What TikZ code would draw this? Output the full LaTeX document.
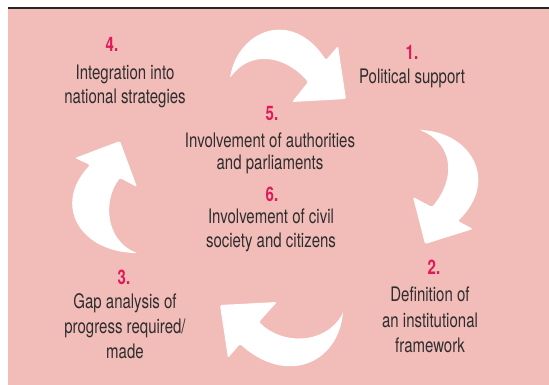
\documentclass[tikz,border=0pt]{standalone}
\usepackage{fontspec}
\setmainfont{TeX Gyre Heros}[FakeStretch=0.75]
\definecolor{bgpink}{HTML}{F2BCB9}
\definecolor{numred}{HTML}{E0195A}
\definecolor{txtgray}{HTML}{2E2E2E}
\tikzset{
  num/.style={font=\fontsize{20}{24}\selectfont\bfseries,text=numred,inner sep=0pt},
  steptext/.style={font=\fontsize{20}{24}\selectfont,text=txtgray,align=center,inner sep=0pt},
  arrowfill/.style={fill=white,rounded corners=1.5pt}
}
\begin{document}
\begin{tikzpicture}[x=1pt,y=-1pt]
\useasboundingbox (0,0) rectangle (549,385);
%frame
\fill[white] (0,0) rectangle (549,385);
\fill[bgpink] (8,9.5) rectangle (549,385);
\fill[black!85] (8,7.3) rectangle (549,9.5);
%arrows
\fill[arrowfill] (230,78) .. controls (238,30) and (292,8) .. (326,60) -- (338,46) -- (346,99) -- (292,102) -- (308,82) .. controls (285,55) and (250,50) .. (230,78) -- cycle;
\fill[arrowfill] (420,130) .. controls (470,132) and (500,180) .. (458,221) -- (473,229) -- (425,244) -- (413,197) -- (432,207) .. controls (455,180) and (455,145) .. (420,130) -- cycle;
\fill[arrowfill] (343,313) .. controls (337,365) and (285,385) .. (240,344) -- (228,358) -- (220,305) -- (277,302) -- (259,322) .. controls (282,345) and (325,345) .. (343,313) -- cycle;
\fill[arrowfill] (137,253) .. controls (80,252) and (52,205) .. (90,165) -- (75,158) -- (120,141) -- (137,187) -- (120,178) .. controls (103,200) and (105,240) .. (137,253) -- cycle;
%numbers
\foreach \k/\x/\y in {1/412/52,2/434/267,3/124/277,4/112/44,5/272/114,6/272/194}{\node[num] (n\k) at (\x,\y) {\k.};}
%steps
\node[steptext] (s1) at (412,78) {Political support};
\node[steptext,font=\fontsize{20}{25.5}\selectfont] (s2) at (430,320) {Definition of\\an institutional\\framework};
\node[steptext,font=\fontsize{20}{25}\selectfont] (s3) at (125,326) {Gap analysis of\\progress required/\\made};
\node[steptext] (s4) at (125,86) {Integration into\\national strategies};
\node[steptext,font=\fontsize{20}{22}\selectfont] (s5) at (270,153) {Involvement of authorities\\and parliaments};
\node[steptext] (s6) at (271,230) {Involvement of civil\\society and citizens};
\end{tikzpicture}
\end{document}
